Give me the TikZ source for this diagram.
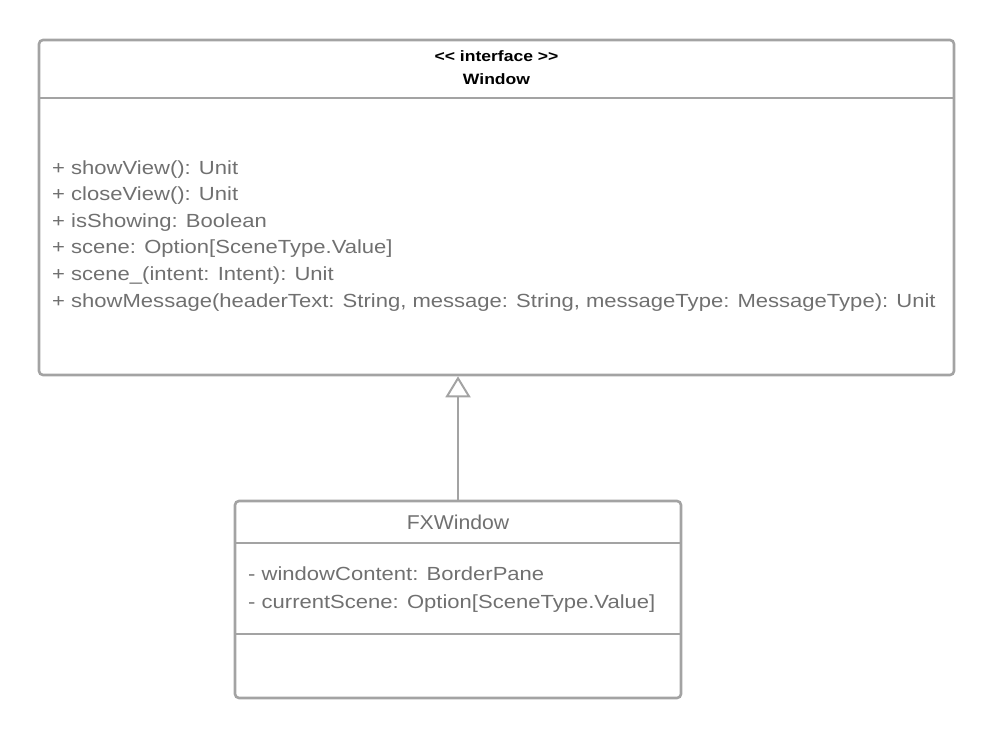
\documentclass[tikz,border=0pt]{standalone}
\usepackage{fontspec}
\setmainfont{Liberation Sans}
\newfontfamily\memfont{Liberation Sans}[FakeStretch=1.16]
\newfontfamily\titlefont{Liberation Sans}[FakeStretch=1.06]
\newfontfamily\headfont{Liberation Sans}[FakeStretch=1.17]
\usetikzlibrary{arrows.meta}
\definecolor{lgray}{HTML}{A3A3A3}
\definecolor{tgray}{HTML}{707070}
\tikzset{
  umlbox/.style={draw=lgray, line width=2.6pt, rounded corners=4pt, inner sep=0pt},
  divider/.style={draw=lgray, line width=2.6pt},
  member/.style={anchor=base west, inner sep=0pt, text=tgray, font=\memfont\fontsize{19}{20}\selectfont},
  headtxt/.style={anchor=base, inner sep=0pt, font=\headfont\fontsize{15}{20}\selectfont\bfseries, text=black},
  titletxt/.style={anchor=base, inner sep=0pt, text=tgray, font=\titlefont\fontsize{20}{22}\selectfont},
}
\begin{document}
\begin{tikzpicture}[x=1pt,y=-1pt]
\useasboundingbox (0,0) rectangle (995,739);
% Window interface
\node[umlbox, minimum width=915pt, minimum height=335pt] (win) at (496.5,207.5) {};
\draw[divider] (39,98) coordinate (wd1) -- (954,98) coordinate (wd2);
\node[headtxt] (winstereo) at (496.5,61) {<\kern0pt< interface >\kern0pt>};
\node[headtxt] (winname) at (496.5,84) {Window};
\node[member] (m1) at (52,174) {+ showView(): Unit};
\node[member] (m2) at (52,200.6) {+ closeView(): Unit};
\node[member] (m3) at (52,227.2) {+ isShowing: Boolean};
\node[member] (m4) at (52,253.8) {+ scene: Option[SceneType.Value]};
\node[member] (m5) at (52,280.4) {+ scene\_(intent: Intent): Unit};
\node[member] (m6) at (52,307) {+ showMessage(headerText: String, message: String, messageType: MessageType): Unit};
% FXWindow class
\node[umlbox, minimum width=446pt, minimum height=197pt] (fx) at (458,599.5) {};
\draw[divider] (235,543) -- (681,543);
\draw[divider] (235,634) -- (681,634);
\node[titletxt] (fxtitle) at (458,529) {FXWindow};
\node[member] (a1) at (248,580) {- windowContent: BorderPane};
\node[member] (a2) at (248,608.6) {- currentScene: Option[SceneType.Value]};
% realization arrow
\draw[draw=lgray, line width=2pt, -{Triangle[open, width=25pt, length=21pt, line width=2pt]}] (fx.north) -- (fx.north |- win.south);
\end{tikzpicture}
\end{document}
